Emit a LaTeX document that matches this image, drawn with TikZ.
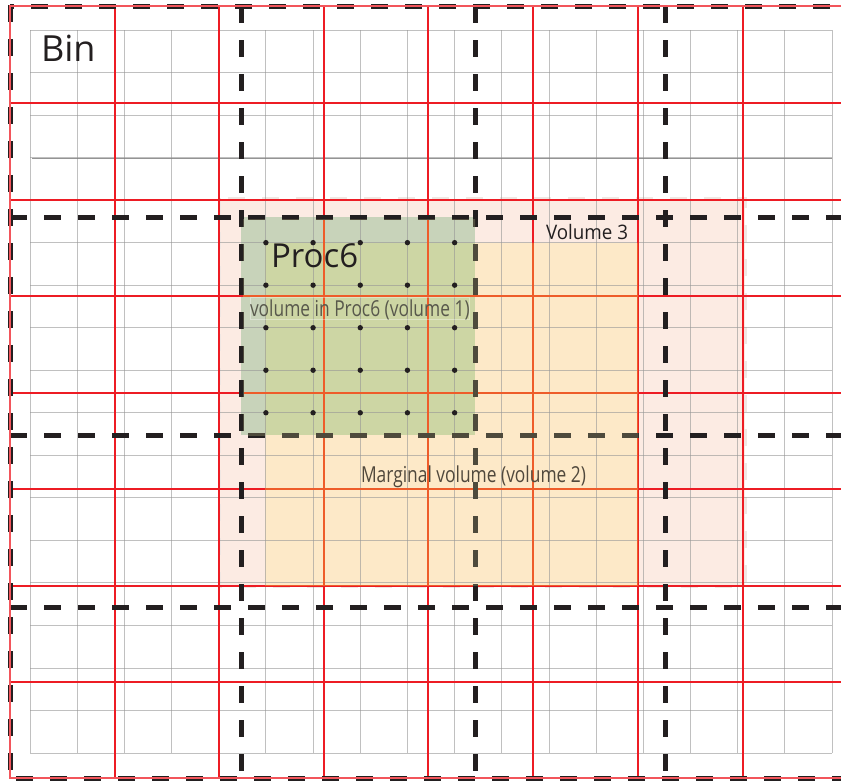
\documentclass[tikz,border=0pt]{standalone}
\usepackage{fontspec}
\setmainfont{Open Sans}
\newfontfamily\condfont[FakeStretch=0.79]{Open Sans}
\newfontfamily\semicond[FakeStretch=0.94]{Open Sans}
\definecolor{gridgray}{RGB}{150,150,150}
\definecolor{darkgridgray}{RGB}{130,130,130}
\definecolor{binred}{RGB}{237,28,36}
\definecolor{tintred}{RGB}{238,92,42}
\definecolor{procblack}{RGB}{35,31,32}
\definecolor{olivedash}{RGB}{78,74,60}
\definecolor{pinkfill}{RGB}{252,235,227}
\definecolor{pinkedge}{RGB}{240,231,227}
\definecolor{orangefill}{RGB}{253,233,200}
\definecolor{greenpale}{RGB}{200,211,186}
\definecolor{greenwarm}{RGB}{205,214,164}
\definecolor{textgray}{RGB}{88,88,76}
\definecolor{textbrown}{RGB}{80,72,60}
\newcommand\procdashes[1]{%
  \draw[dashline,#1,dash phase=13] (10,6) -- (845,6);
  \draw[dashline,#1,dash phase=28] (10,778) -- (845,778);
  \draw[dashline,#1] (10,5) -- (10,782);
  \foreach \xx in {241,475,665} \draw[dashline,#1] (\xx,6) -- (\xx,782);
  \foreach \yy in {217,435,607} \draw[dashline,#1] (10,\yy) -- (845,\yy);
}
\newcommand\binlines[1]{%
  \foreach \xx in {115,219,324,428,533,638,743} \draw[redline,#1] (\xx,6) -- (\xx,778);
  \foreach \yy in {103,200,296,393,489,586,682} \draw[redline,#1] (10,\yy) -- (845,\yy);
}
\begin{document}
\begin{tikzpicture}[x=1pt,y=-1pt,
  gridline/.style={draw=gridgray,line width=0.9pt,draw opacity=0.6},
  darkgridline/.style={draw=darkgridgray,line width=0.9pt,draw opacity=0.85},
  redline/.style={line width=2.2pt},
  rededge/.style={draw=binred!75,line width=1.2pt},
  dashline/.style={line width=5pt,dash pattern=on 17pt off 17pt},
  dotfill/.style={fill=procblack},
  lbl/.style={anchor=base west,inner sep=0pt,outer sep=0pt}]
\useasboundingbox (0,0) rectangle (841,782);
\clip (0,0) rectangle (841,782);
\fill[white] (0,0) rectangle (841,782);
% volume 3 (pink)
\fill[pinkfill] (219,199) rectangle (745,586);
\draw[pinkedge,line width=3pt,dash pattern=on 17pt off 17pt] (219,198) rectangle (745,586);
% marginal volume (orange)
\fill[orangefill] (265,243) rectangle (638,585);
% proc6 volume (green)
\fill[greenpale] (241,217) rectangle (475,435);
\fill[greenwarm] (265,243) rectangle (475,435);
% fine grid
\foreach \i in {0,...,17} \draw[gridline] ({30+47.18*\i},30) -- ({30+47.18*\i},753);
\foreach \j in {0,...,17} \draw[gridline] (30,{30+42.53*\j}) -- (832,{30+42.53*\j});
\draw[darkgridline] (32,158.6) -- (832,158.6);
% bin grid
\binlines{draw=binred}
% processor boundaries
\procdashes{procblack}
\draw[rededge] (845,6) -- (10,6) -- (10,778) -- (845,778);
% tinted parts inside the coloured volumes
\begin{scope}
  \clip (265,243) rectangle (638,585);
  \binlines{draw=tintred}
  \procdashes{olivedash}
\end{scope}
\begin{scope}
  \clip (243,219) rectangle (475,435);
  \binlines{draw=tintred}
  \procdashes{olivedash}
\end{scope}
% particles
\foreach \i in {5,...,9} \foreach \j in {5,...,9}
  \fill[dotfill] ({30+47.18*\i},{30+42.53*\j}) circle (2.7);
% labels
\draw[white,opacity=0.35,line width=0.8pt] (250,297) rectangle (469,319);
\node[lbl,text=procblack,font=\fontsize{36}{36}\selectfont] (bin) at (41,61) {Bin};
\node[lbl,text=procblack,font=\fontsize{33}{33}\selectfont] (proc) at (271,267) {Proc6};
\node[lbl,text=textgray,font=\condfont\fontsize{22}{22}\selectfont] (vol1) at (250,316) {volume in Proc6 (volume 1)};
\node[lbl,text=textbrown,font=\condfont\fontsize{22}{22}\selectfont] (vol2) at (361,482) {Marginal volume (volume 2)};
\node[lbl,text=procblack,font=\semicond\fontsize{20}{20}\selectfont] (vol3) at (546,239) {Volume 3};
\end{tikzpicture}
\end{document}
